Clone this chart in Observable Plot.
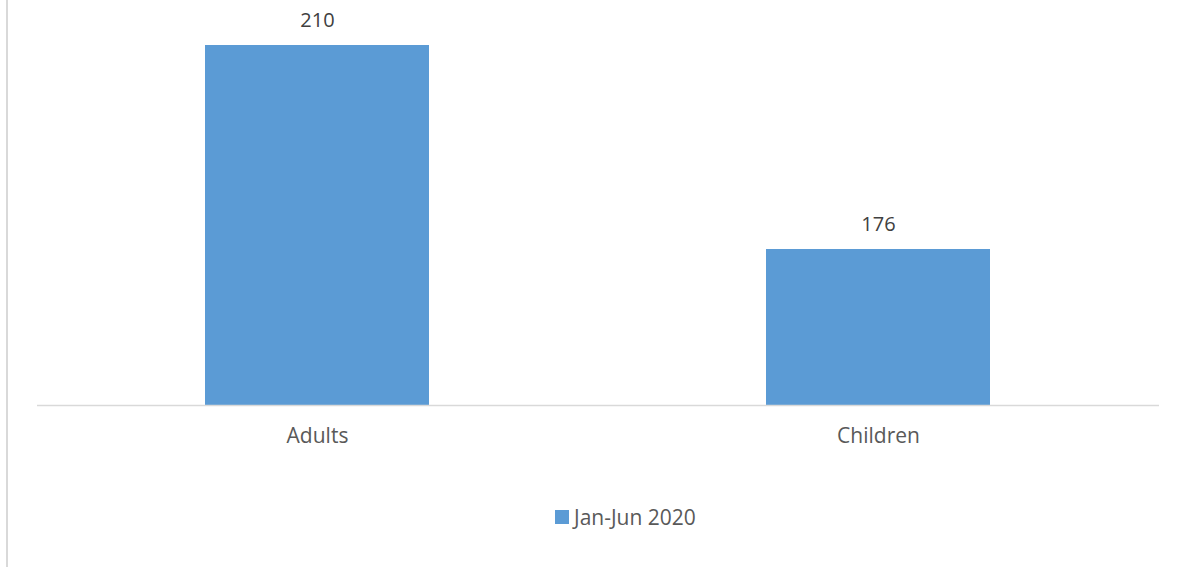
<!DOCTYPE html>
<html>
<head>
<meta charset="utf-8">
<script src="https://cdn.jsdelivr.net/npm/d3@7"></script>
<script src="https://cdn.jsdelivr.net/npm/@observablehq/plot@0.6"></script>
<style>
  html, body { margin: 0; padding: 0; background: #fff; }
  body { width: 1178px; height: 567px; overflow: hidden; position: relative; font-family: "Open Sans", sans-serif; }
  #chart { position: absolute; left: 0; top: 0; }
  #border { position: absolute; left: 6px; top: 0; width: 2px; height: 567px; background: #d9d9d9; z-index: 2; }
  #legend { position: absolute; left: 555px; top: 503px; display: flex; align-items: center; gap: 5px; font-size: 21px; color: #595959; }
  #legend .sw { width: 14px; height: 14px; background: #5b9bd5; }
</style>
</head>
<body>
<div id="chart"></div>
<div id="border"></div>
<div id="legend"><div class="sw"></div><span id="legend-label"></span></div>
<script>
const categories = ["Adults", "Children"];
const values = [210, 176];
const seriesName = "Jan-Jun 2020";

const data = categories.map((c, i) => ({category: c, value: values[i]}));

const chart = Plot.plot({
  width: 1178,
  height: 480,
  marginTop: 0,
  marginBottom: 75,
  marginLeft: 37,
  marginRight: 19,
  style: {fontFamily: "Open Sans, sans-serif", fontSize: "20px", color: "#595959", background: "white"},
  x: {domain: categories, paddingInner: 0.6, paddingOuter: 0.3, label: null},
  y: {domain: [150, 217.5], axis: null},
  marks: [
    Plot.barY(data, {x: "category", y: "value", fill: "#5b9bd5", clip: true}),
    Plot.ruleY([150], {stroke: "#d9d9d9", strokeWidth: 1.5}),
    Plot.text(data, {x: "category", y: "value", text: d => String(d.value), dy: -25, fill: "#404040", fontSize: 20, lineAnchor: "middle"}),
    Plot.axisX({tickSize: 0, tickPadding: 23, fontSize: 21, fill: "#595959", label: null})
  ]
});
document.getElementById("chart").appendChild(chart);
document.getElementById("legend-label").textContent = seriesName;
</script>
</body>
</html>
